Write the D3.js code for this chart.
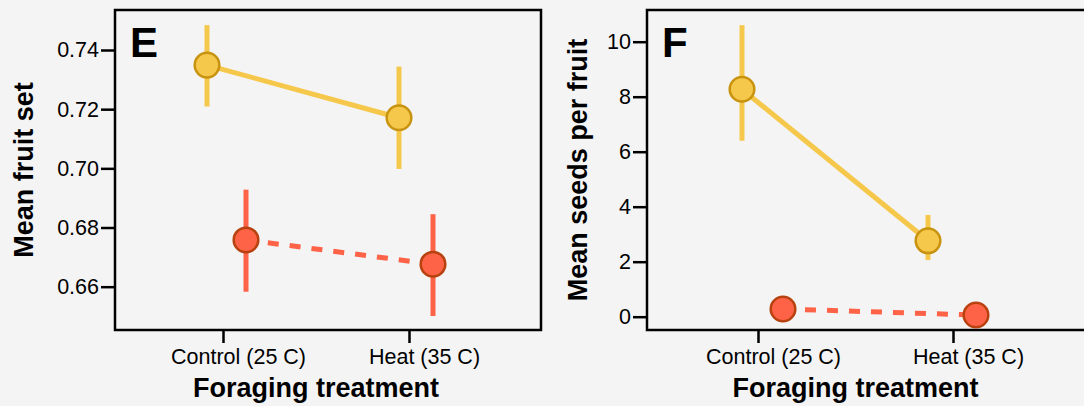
<!DOCTYPE html>
<html>
<head>
<meta charset="utf-8">
<script src="https://cdn.jsdelivr.net/npm/d3@7"></script>
<style>
  body { margin: 0; background: #f4f4f4; }
  svg { display: block; font-family: "Liberation Sans", Arial, Helvetica, sans-serif; }
</style>
</head>
<body>
<svg id="chart" width="1084" height="406"></svg>
<script>
const groups = ["Control (25 C)", "Heat (35 C)"];

// panel E: mean fruit set
const eTicks = [0.66, 0.68, 0.70, 0.72, 0.74];
const eYellowMean = [0.7349, 0.7171];
const eYellowLow = [0.7209, 0.6998];
const eYellowHigh = [0.7484, 0.7344];
const eRedMean = [0.6758, 0.6676];
const eRedLow = [0.6583, 0.6501];
const eRedHigh = [0.6928, 0.6845];

// panel F: mean seeds per fruit
const fTicks = [0, 2, 4, 6, 8, 10];
const fYellowMean = [8.27, 2.76];
const fYellowLow = [6.4, 2.06];
const fYellowHigh = [10.6, 3.7];
const fRedMean = [0.28, 0.06];
const fRedLow = [0.18, 0.01];
const fRedHigh = [0.38, 0.11];

const yellow = { fill: "#f5c84c", stroke: "#c8930f", line: "#f5c84c", dash: null };
const red = { fill: "#ff6347", stroke: "#b8420f", line: "#ff6347", dash: "11,11" };

const svg = d3.select("#chart");
const frameTop = 10, frameBottom = 330;
const fontFamily = " 'Liberation Sans', Arial, sans-serif";
const tickFont = "21.5px", titleFont = "bold 27px", letterFont = "bold 42px";

function drawPanel(opts) {
    const g = svg.append("g");
    const x = d3.scalePoint().domain(groups).range(opts.xRange);
    const y = d3.scaleLinear().domain(opts.yDomain).range([frameBottom, frameTop]);

    // y axis
    const yAxis = g.append("g")
        .attr("transform", `translate(${opts.left},0)`)
        .call(d3.axisLeft(y).tickValues(opts.ticks).tickSize(14).tickPadding(2)
            .tickFormat(opts.format));
    yAxis.select(".domain").remove();
    yAxis.selectAll("line").attr("stroke", "#000").attr("stroke-width", 2.5);
    yAxis.selectAll("text").attr("fill", "#000").style("font-size", tickFont);

    // x axis
    const xAxis = g.append("g")
        .attr("transform", `translate(0,${frameBottom})`)
        .call(d3.axisBottom(x).tickSize(13).tickPadding(6));
    xAxis.select(".domain").remove();
    xAxis.selectAll("line").attr("stroke", "#000").attr("stroke-width", 2.5);
    xAxis.selectAll("text").attr("fill", "#000").attr("dx", 15).style("font-size", tickFont);

    // frame
    g.append("rect")
        .attr("x", opts.left).attr("y", frameTop)
        .attr("width", opts.right - opts.left).attr("height", frameBottom - frameTop)
        .attr("fill", "none").attr("stroke", "#000").attr("stroke-width", 2.5);

    // error bars and connecting lines
    opts.series.forEach(s => {
        const pts = groups.map((grp, i) => ({
            x: x(grp) + s.jitter[i], m: s.mean[i], lo: s.low[i], hi: s.high[i]
        }));
        g.append("g").selectAll("line")
            .data(pts).join("line")
            .attr("x1", d => d.x).attr("x2", d => d.x)
            .attr("y1", d => y(d.lo)).attr("y2", d => y(d.hi))
            .attr("stroke", s.style.line).attr("stroke-width", 5);
        g.append("path")
            .datum(pts)
            .attr("d", d3.line().x(d => d.x).y(d => y(d.m)))
            .attr("fill", "none")
            .attr("stroke", s.style.line).attr("stroke-width", 5)
            .attr("stroke-dasharray", s.style.dash);
    });
    // markers on top
    opts.series.forEach(s => {
        g.append("g").selectAll("circle")
            .data(groups.map((grp, i) => ({ x: x(grp) + s.jitter[i], m: s.mean[i] })))
            .join("circle")
            .attr("cx", d => d.x).attr("cy", d => y(d.m)).attr("r", 12.3)
            .attr("fill", s.style.fill).attr("stroke", s.style.stroke).attr("stroke-width", 2.5);
    });

    // panel letter
    g.append("text").attr("x", opts.left + 15).attr("y", 57)
        .style("font", letterFont + fontFamily).text(opts.letter);

    // titles
    g.append("text")
        .attr("transform", `translate(${opts.yTitleX},${(frameTop + frameBottom) / 2}) rotate(-90)`)
        .attr("text-anchor", "middle")
        .style("font", titleFont + fontFamily)
        .text(opts.yTitle);
    g.append("text")
        .attr("x", (opts.xRange[0] + opts.xRange[1]) / 2).attr("y", 397)
        .attr("text-anchor", "middle")
        .style("font", titleFont + fontFamily)
        .text("Foraging treatment");
}

drawPanel({
    letter: "E", left: 115, right: 541, xRange: [223, 409],
    yDomain: [0.64536, 0.75352], ticks: eTicks, format: d3.format(".2f"),
    yTitle: "Mean fruit set", yTitleX: 33,
    series: [
        { style: yellow, mean: eYellowMean, low: eYellowLow, high: eYellowHigh, jitter: [-16, -10] },
        { style: red, mean: eRedMean, low: eRedLow, high: eRedHigh, jitter: [23, 24] }
    ]
});

drawPanel({
    letter: "F", left: 647, right: 1092, xRange: [758, 953],
    yDomain: [-0.484, 11.153], ticks: fTicks, format: d3.format("d"),
    yTitle: "Mean seeds per fruit", yTitleX: 587,
    series: [
        { style: yellow, mean: fYellowMean, low: fYellowLow, high: fYellowHigh, jitter: [-16, -25] },
        { style: red, mean: fRedMean, low: fRedLow, high: fRedHigh, jitter: [25, 23] }
    ]
});
</script>
</body>
</html>
